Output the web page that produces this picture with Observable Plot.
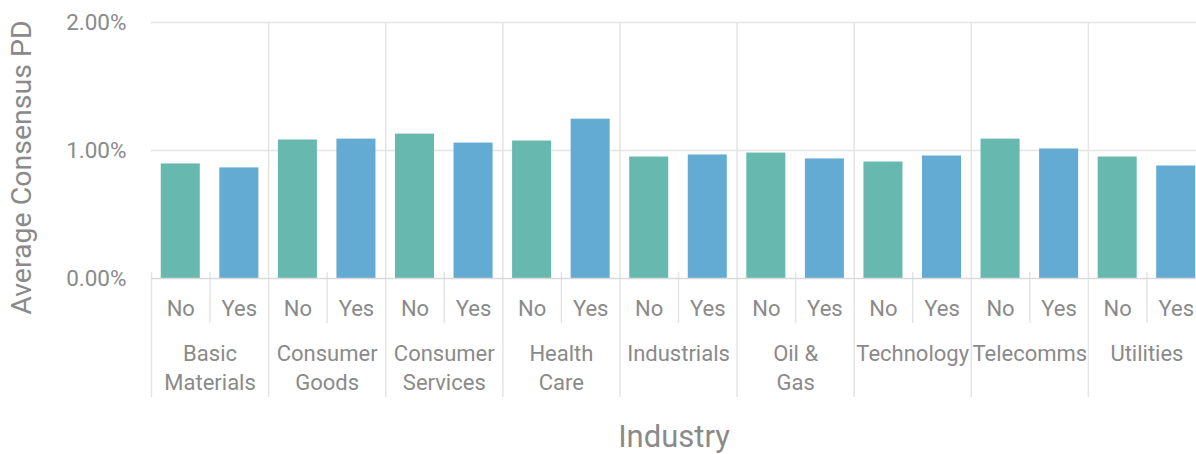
<!DOCTYPE html>
<html>
<head>
<meta charset="utf-8">
<script src="https://cdn.jsdelivr.net/npm/d3@7"></script>
<script src="https://cdn.jsdelivr.net/npm/@observablehq/plot@0.6"></script>
<style>
  html, body { margin: 0; padding: 0; background: #fff; overflow: hidden; }
</style>
</head>
<body>
<div id="chart"></div>
<script>
// ---- data ----
const industries = ["Basic\nMaterials", "Consumer\nGoods", "Consumer\nServices", "Health\nCare", "Industrials", "Oil &\nGas", "Technology", "Telecomms", "Utilities"];
const flags = ["No", "Yes"];
const noValues  = [0.00895, 0.01082, 0.01128, 0.01074, 0.00949, 0.00980, 0.00910, 0.01089, 0.00949];
const yesValues = [0.00864, 0.01089, 0.01058, 0.01245, 0.00965, 0.00934, 0.00957, 0.01012, 0.00879];
const yTicks = [0, 0.01, 0.02];
const yTitle = "Average Consensus PD";
const xTitle = "Industry";

// ---- styles ----
const colors = ["#67b8af", "#63abd3"];
const textColor = "#8a8a8a";
const gridColor = "#e4e4e4";

// ---- table built from arrays ----
const rows = [];
industries.forEach((ind, i) => {
  [noValues[i], yesValues[i]].forEach((v, j) => {
    rows.push({industry: ind, flag: flags[j], slot: 2 * i + j, value: v});
  });
});
const groups = industries.map((ind, i) => ({industry: ind, center: 2 * i + 1}));
const nSlots = industries.length * 2;
const innerBounds = d3.range(2, nSlots, 2);
const outerBounds = [0, nSlots];
const subBounds = d3.range(1, nSlots, 2);

const chart = Plot.plot({
  width: 1196,
  height: 454,
  marginLeft: 151,
  marginRight: 0,
  marginTop: 22,
  marginBottom: 176,
  style: {fontFamily: "Roboto, 'Noto Sans', sans-serif", background: "#fff", overflow: "visible"},
  x: {domain: [0, nSlots], range: [151, 1205], axis: null},
  y: {domain: [0, 0.02], axis: null},
  color: {domain: flags, range: colors},
  marks: [
    Plot.gridY(yTicks.slice(1), {stroke: gridColor, strokeOpacity: 1, strokeWidth: 1.5}),
    Plot.ruleX(innerBounds, {stroke: gridColor, strokeWidth: 1.5, insetBottom: -119}),
    Plot.ruleX(outerBounds, {stroke: gridColor, strokeWidth: 1.5, insetTop: 250, insetBottom: -119}),
    Plot.ruleX(subBounds, {stroke: gridColor, strokeWidth: 1.5, insetTop: 250, insetBottom: -45}),
    Plot.rectY(rows, {x1: d => d.slot + 1/6, x2: d => d.slot + 5/6, y: "value", fill: "flag"}),
    Plot.ruleY([0], {stroke: "#dadada", strokeWidth: 1.5}),
    Plot.axisY({ticks: yTicks, tickFormat: d3.format(".2%"), tickSize: 0, tickPadding: 25, fontSize: 22.5, fill: textColor, label: null}),
    Plot.text(rows, {x: d => d.slot + 0.5, text: "flag", frameAnchor: "bottom", lineAnchor: "top", dy: 22, fontSize: 22, fill: textColor}),
    Plot.text(groups, {x: "center", text: "industry", frameAnchor: "bottom", lineAnchor: "top", dy: 62, lineHeight: 1.32, fontSize: 22, fill: textColor}),
    Plot.text([xTitle], {frameAnchor: "bottom", lineAnchor: "top", dy: 146, fontSize: 31, fill: textColor}),
    Plot.text([yTitle], {frameAnchor: "left", textAnchor: "middle", lineAnchor: "middle", rotate: -90, dx: -130, dy: 17, fontSize: 28.5, fill: textColor})
  ]
});
document.getElementById("chart").appendChild(chart);
</script>
</body>
</html>
